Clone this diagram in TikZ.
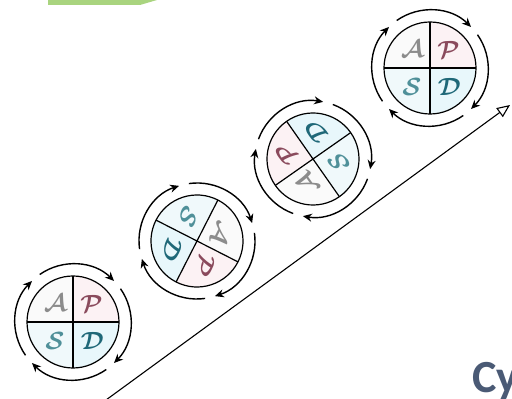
\documentclass[tikz,border=0pt]{standalone}
\usepackage{fontspec}
\newfontfamily\capfont{Carlito}
\usetikzlibrary{arrows.meta}
\definecolor{bandgreen}{HTML}{A9D47F}
\definecolor{captext}{HTML}{4A5A75}
\definecolor{fillA}{HTML}{FAFAFA}
\definecolor{fillP}{HTML}{FCF2F4}
\definecolor{fillS}{HTML}{F0F9FB}
\definecolor{fillD}{HTML}{E8F7FB}
\definecolor{colA}{HTML}{8C8C8C}
\definecolor{colP}{HTML}{8A4A5C}
\definecolor{colS}{HTML}{4F9099}
\definecolor{colD}{HTML}{1F6878}
\begin{document}
\begin{tikzpicture}[x=1pt,y=1pt,
  quad/.style={draw=black,line width=1.2pt},
  turn/.style={line width=1.4pt,-{Stealth[length=9pt,width=8pt]}},
  letter/.style={font=\fontsize{26}{26}\selectfont\boldmath,inner sep=0pt}]
  \useasboundingbox (0,0) rectangle (512,399);
  \clip (0,0) rectangle (512,399);
  % green band cut by the top edge
  \fill[bandgreen] (48,394) -- (140,394) -- (157,399) -- (48,399) -- cycle;
  % four wheels, each one turned further
  \foreach \n/\x/\y/\r in {1/73/77/0, 2/197/158/-117, 3/313/240/-235, 4/430/331/-360} {
    \begin{scope}[shift={(\x,\y)},rotate=\r]
      \fill[fillA] (0,0) -- (0,46) arc (90:180:46) -- cycle;
      \fill[fillP] (0,0) -- (46,0) arc (0:90:46) -- cycle;
      \fill[fillS] (0,0) -- (-46,0) arc (180:270:46) -- cycle;
      \fill[fillD] (0,0) -- (0,-46) arc (270:360:46) -- cycle;
      \draw[quad] (0,0) circle (46);
      \draw[quad] (-46,0) -- (46,0) (0,-46) -- (0,46);
      \node[letter,text=colA,rotate=\r] (A\n) at (133:26) {$\mathcal{A}$};
      \node[letter,text=colP,rotate=\r] (P\n) at (45:26) {$\mathcal{P}$};
      \node[letter,text=colS,rotate=\r] (S\n) at (226:26) {$\mathcal{S}$};
      \node[letter,text=colD,rotate=\r] (D\n) at (316:27) {$\mathcal{D}$};
      \foreach \a in {125,35,-55,-145} \draw[turn] (\a:58) arc (\a:\a-80:58);
    \end{scope}
  }
  % rising axis
  \coordinate (start) at (106,-1);
  \coordinate (tip) at (510,294);
  \draw[line width=1.1pt,-{Triangle[open,length=13pt,width=11pt]}] (start) -- (tip);
  \node[anchor=base west,inner sep=0pt,text=captext,font=\capfont\bfseries\fontsize{46}{46}\selectfont] (cap) at (472,6) {Cy};
\end{tikzpicture}
\end{document}
